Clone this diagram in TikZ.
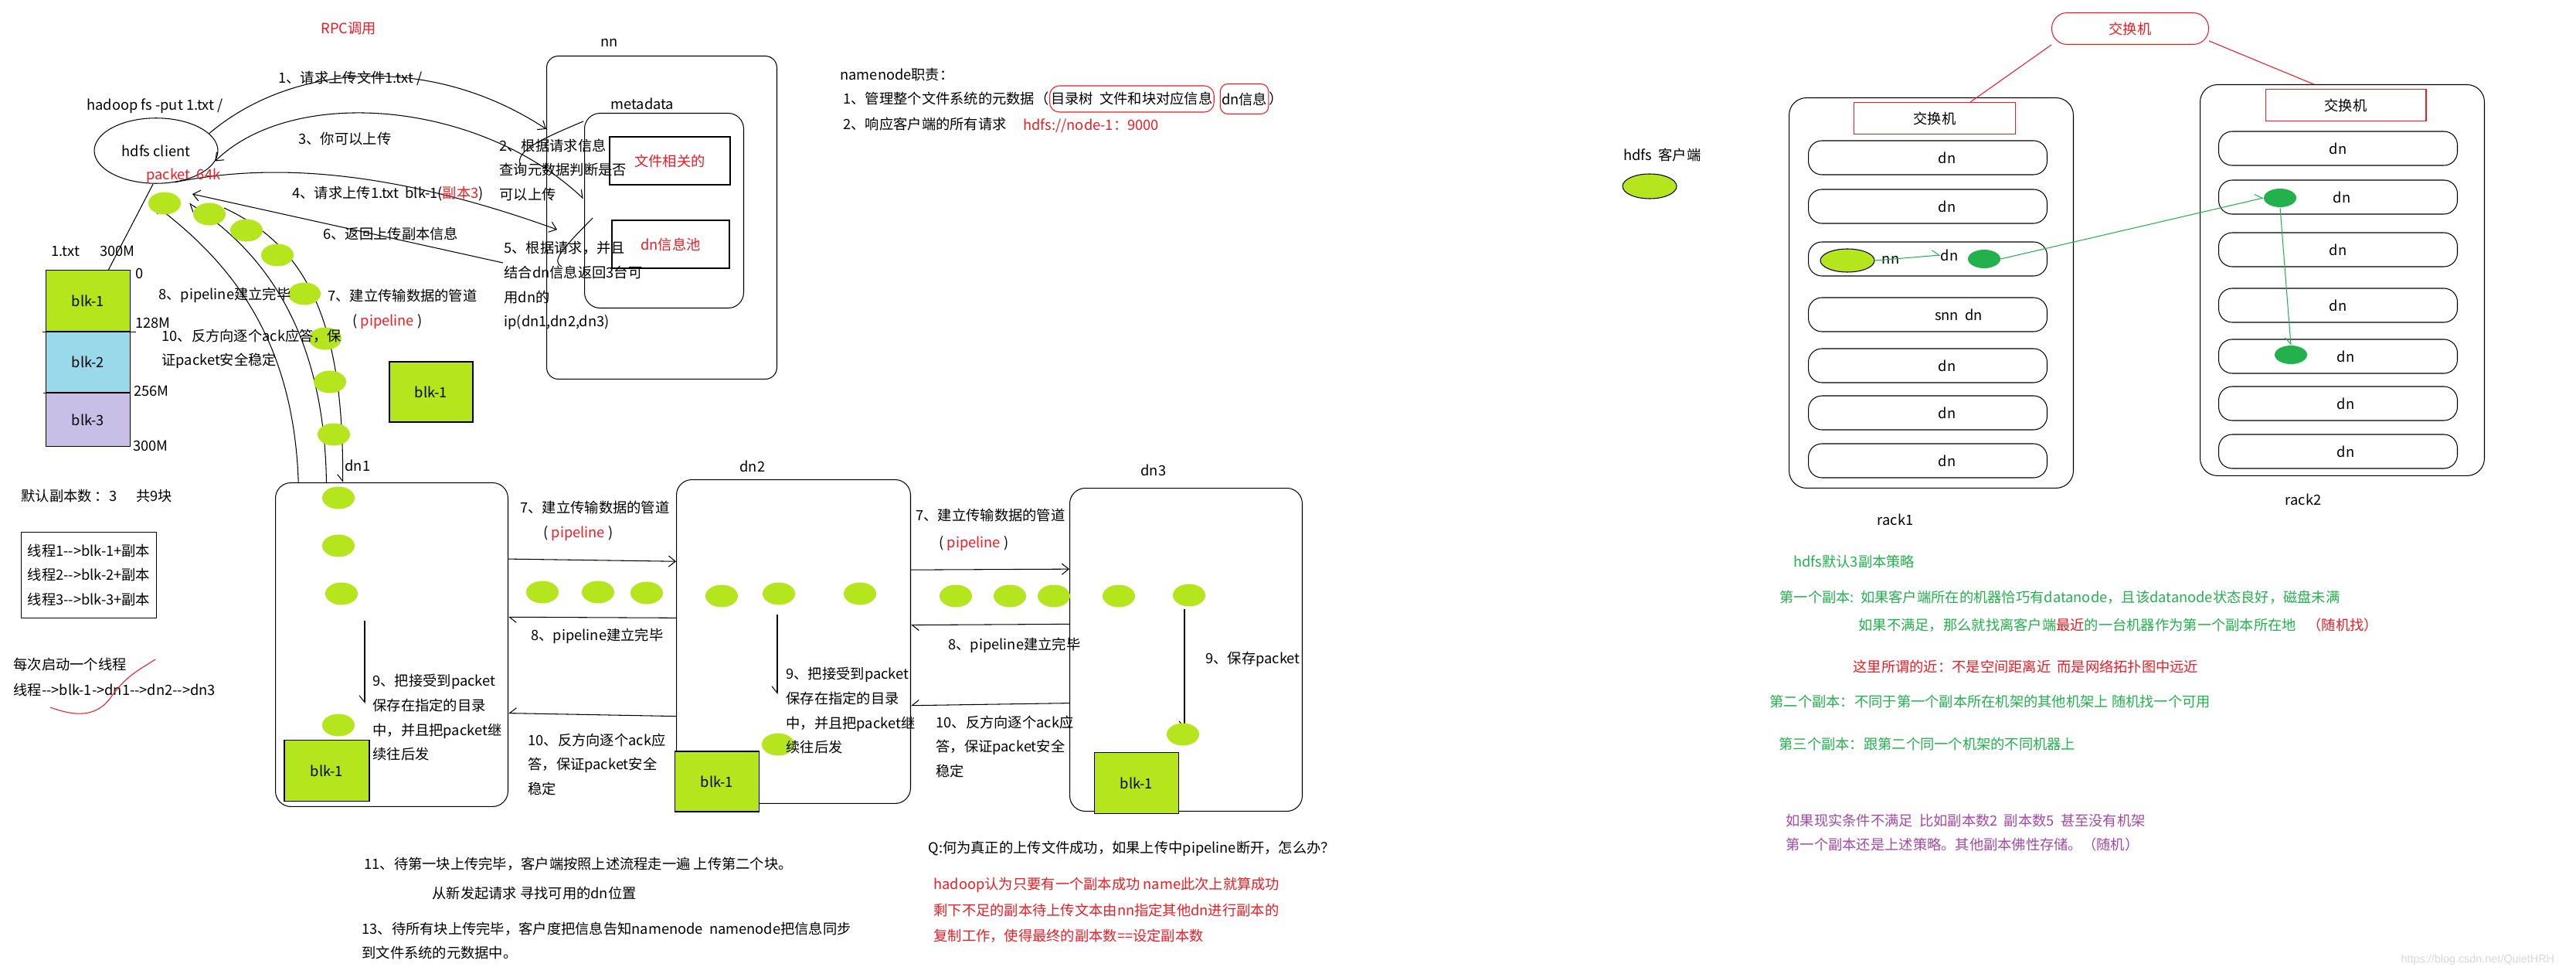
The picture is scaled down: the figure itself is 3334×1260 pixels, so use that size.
\documentclass[tikz,border=0pt]{standalone}
\usepackage{fontspec}
\setmainfont{Noto Sans CJK SC}
\newfontfamily\wmfont{Liberation Sans}
\usetikzlibrary{shapes.geometric,arrows.meta,positioning,calc}
\definecolor{pLime}{HTML}{B5E61D}
\definecolor{pSky}{HTML}{99D9EA}
\definecolor{pLilac}{HTML}{C8BFE7}
\definecolor{pGreen}{HTML}{22B14C}
\definecolor{pRed}{HTML}{ED1C24}
\definecolor{pPurple}{HTML}{A349A4}
\definecolor{pMark}{HTML}{D8D8D8}
\newcommand{\ftx}{\fontsize{10.4}{18}\selectfont}
\newcommand{\dar}{-\kern0pt->}
\tikzset{
  txt/.style={font=\ftx, inner sep=0pt, anchor=west, align=left},
  txtR/.style={txt, text=pRed},
  txtG/.style={txt, text=pGreen},
  txtP/.style={txt, text=pPurple},
  para/.style={txt, anchor=north west},
  box/.style={draw, rounded corners=0.4cm, anchor=north west, inner sep=0pt},
  infobox/.style={draw, text=pRed, font=\ftx, inner sep=0pt},
  blk/.style={draw, fill=pLime, font=\ftx, minimum width=2.18cm, minimum height=1.58cm, inner sep=0pt},
  pkt/.style={ellipse, fill=pLime, minimum width=0.84cm, minimum height=0.58cm, inner sep=0pt},
  gdot/.style={ellipse, fill=pGreen, minimum width=0.84cm, minimum height=0.48cm, inner sep=0pt},
  rowbox/.style={draw, rounded corners=0.35cm, minimum width=6.18cm, minimum height=0.88cm, inner sep=0pt, font=\ftx},
  rack/.style={draw, rounded corners=0.45cm, minimum width=7.36cm, minimum height=10.1cm, anchor=north west},
  arr/.style={-{Straight Barb[length=5pt,width=8pt]}},
  hL/.style={-{Straight Barb[length=5pt,width=8pt,left]}},
  hR/.style={-{Straight Barb[length=5pt,width=8pt,right]}},
}
\begin{document}
\begin{tikzpicture}[x=0.02cm, y=-0.02cm, line width=0.6pt]
\useasboundingbox (0,0) rectangle (3334,1260);
\fill[white] (0,0) rectangle (3334,1260);

% namenode and client
\node[box, rounded corners=0.3cm, minimum width=5.96cm, minimum height=8.36cm] (nn) at (707,72) {};
\node[box, minimum width=4.12cm, minimum height=5.04cm] (meta) at (756,146) {};
\node[infobox, minimum width=3.12cm, minimum height=1.24cm] (fileinfo) at (867,208) {文件相关的};
\node[infobox, minimum width=3.04cm, minimum height=1.24cm] (dnpool) at (868,316) {dn信息池};
\node[ellipse, draw, minimum width=3.2cm, minimum height=1.69cm, inner sep=0pt, font=\ftx] (client) at (202,195) {hdfs client};

\node[draw, fill=pLime, font=\ftx, anchor=north west, minimum width=2.18cm, minimum height=1.58cm, inner sep=0pt] (f1) at (59,349) {blk-1};
\node[draw, fill=pSky, font=\ftx, minimum width=2.18cm, minimum height=1.56cm, inner sep=0pt, below=0pt of f1] (f2) {blk-2};
\node[draw, fill=pLilac, font=\ftx, minimum width=2.18cm, minimum height=1.38cm, inner sep=0pt, below=0pt of f2] (f3) {blk-3};
\draw ([xshift=-0.08cm]f1.south west) -- ([xshift=0.14cm]f1.south east);
\draw ([xshift=-0.06cm]f2.south west) -- (f2.south east);
\node[blk, minimum width=2.16cm, minimum height=1.56cm] (blk0) at (558,507) {blk-1};

\coordinate (a1e) at (707,167);
\coordinate (a2s) at (755,157); \coordinate (a2e) at (673,212);
\coordinate (a3s) at (755,257);
\coordinate (a4e) at (721,297);
\coordinate (a5s) at (767,282); \coordinate (a5e) at (727,345);
\coordinate (a6s) at (651,340); \coordinate (a6e) at (249,251);
\draw[arr] (client.18) .. controls (380,80) and (560,70) .. (a1e);
\draw (a2s) .. controls (700,180) and (668,195) .. (a2e);
\draw[{Straight Barb[length=5pt,width=8pt,left]}-{Straight Barb[length=5pt,width=8pt]}] (a3s) .. controls (620,130) and (380,110) .. (client.-10);
\draw[arr] (client.-60) .. controls (330,215) and (480,210) .. (a4e);
\draw (a5s) .. controls (730,320) and (712,338) .. (a5e);
\draw[arr] (a6s) -- (a6e);
\draw (client.-95) -- ($(f1.north west)!0.74!(f1.north east)$);

% datanodes
\node[box, minimum width=6.02cm, minimum height=8.38cm] (dn1) at (356,624) {};
\node[box, minimum width=6.06cm, minimum height=8.38cm] (dn2) at (875,620) {};
\node[box, minimum width=6.02cm, minimum height=8.36cm] (dn3) at (1384,631) {};

% pipeline from client to dn1
\coordinate (pa) at (200,265); \coordinate (pb) at (245,263); \coordinate (pc) at (290,269);
\draw[hL] ($(dn1.north west)!0.10!(dn1.north east)$) .. controls (380,440) and (300,340) .. (pa);
\draw[hL] ($(dn1.north west)!0.22!(dn1.north east)$) .. controls (420,440) and (350,330) .. (pb);
\draw[hR] (pc) .. controls (400,320) and (445,420) .. ($(dn1.north west)!0.29!(dn1.north east)$);

\draw[arr] ($(dn1.north east)!.236!(dn1.south east)$) -- ($(dn2.north west)!.253!(dn2.south west)$);
\draw[hL] ($(dn2.north west)!.427!(dn2.south west)$) -- ($(dn1.north east)!.415!(dn1.south east)$);
\draw[hR] ($(dn2.north west)!.730!(dn2.south west)$) -- ($(dn1.north east)!.711!(dn1.south east)$);
\draw[arr] ($(dn2.north east)!.279!(dn2.south east)$) -- ($(dn3.north west)!.251!(dn3.south west)$);
\draw[hL] ($(dn3.north west)!.421!(dn3.south west)$) -- ($(dn2.north east)!.449!(dn2.south east)$);
\draw[hR] ($(dn3.north west)!.665!(dn3.south west)$) -- ($(dn2.north east)!.697!(dn2.south east)$);

\coordinate (s1a) at (472,803); \coordinate (s1b) at (472,910);
\coordinate (s2a) at (1006,795); \coordinate (s2b) at (1006,898);
\coordinate (s3a) at (1533,788); \coordinate (s3b) at (1533,943);
\draw[hR] (s1a) -- (s1b); \draw[hR] (s2a) -- (s2b); \draw[hR] (s3a) -- (s3b);

% packets
\node[pkt] (q1) at (213,263) {}; \node[pkt] (q2) at (271,277) {}; \node[pkt] (q3) at (319,298) {};
\node[pkt] (q4) at (359,330) {}; \node[pkt] (q5) at (394,380) {}; \node[pkt] (q6) at (421,438) {};
\node[pkt] (q7) at (427,494) {}; \node[pkt] (q8) at (432,562) {};
\node[pkt] (q9) at (438,644) {}; \node[pkt] (q10) at (438,706) {}; \node[pkt] (q11) at (442,768) {};
\node[pkt] (q12) at (438,938) {};
\node[pkt] (q13) at (702,766) {}; \node[pkt] (q14) at (774,766) {}; \node[pkt] (q15) at (837,767) {};
\node[pkt] (q16) at (934,771) {}; \node[pkt] (q17) at (1008,768) {}; \node[pkt] (q18) at (1113,768) {};
\node[pkt] (q19) at (1007,963) {};
\node[pkt] (q20) at (1237,771) {}; \node[pkt] (q21) at (1307,771) {}; \node[pkt] (q22) at (1364,771) {};
\node[pkt] (q23) at (1448,771) {}; \node[pkt] (q24) at (1539,770) {}; \node[pkt] (q25) at (1531,950) {};

\node[blk, minimum width=2.2cm] (blk1) at (423,997) {blk-1};
\node[blk, minimum height=1.56cm] (blk2) at (928,1011) {blk-1};
\node[blk] (blk3) at (1471,1013) {blk-1};

% texts left
\node[txtR] (rpc) at (415,37) {RPC调用};
\node[txt] (nnlbl) at (777,55) {nn};
\node[txt] (metalbl) at (790,134) {metadata};
\node[txt] (cmd) at (112,137) {hadoop fs -put 1.txt /};
\node[txtR] (pk) at (189,227) {packet\ \ 64k};
\node[txt] (t1) at (360,101) {1、请求上传文件1.txt /};
\node[txt] (t3) at (386,180) {3、你可以上传};
\node[para] (t2) at (646,179) {2、根据请求信息\\查询元数据判断是否\\可以上传};
\node[txt] (t4) at (378,251) {4、请求上传1.txt\ \ blk-1(\textcolor{pRed}{副本3})};
\node[txt] (t6) at (418,302) {6、返回上传副本信息};
\node[para] (t5) at (652,312) {5、根据请求，并且\\结合dn信息返回3台可\\用dn的\\ip(dn1,dn2,dn3)};
\node[txt] (t8) at (205,382) {8、pipeline建立完毕};
\node[txt] (t7) at (424,383) {7、建立传输数据的管道};
\node[txt] (t7b) at (456,416) {( \textcolor{pRed}{pipeline} )};
\node[para] (t10) at (209,425) {10、反方向逐个ack应答，保\\证packet安全稳定};
\node[txt] (ftxt) at (66,325) {1.txt};
\node[txt] (fsize) at (129,325) {300M};
\node[txt] (m0) at (175,354) {0};
\node[txt] (m1) at (175,418) {128M};
\node[txt] (m2) at (173,506) {256M};
\node[txt] (m3) at (172,577) {300M};
\node[txt] (rep) at (27,642) {默认副本数 ：3\hspace{0.5cm}共9块};
\node[draw, anchor=north west, minimum width=3.5cm, minimum height=2.22cm, inner sep=1pt, font=\ftx, align=left] (thr) at (27,688) {线程1\dar blk-1+副本\\线程2\dar blk-2+副本\\线程3\dar blk-3+副本};
\node[txt] (th1) at (17,860) {每次启动一个线程};
\node[txt] (th2) at (17,893) {线程\dar blk-1->dn1\dar dn2\dar dn3};
\draw[pRed] (65,915) .. controls (95,926) and (125,930) .. (145,900) .. controls (165,872) and (185,864) .. (201,853);

\node[txt] (dn1lbl) at (446,602) {dn1};
\node[txt] (dn2lbl) at (957,603) {dn2};
\node[txt] (dn3lbl) at (1476,608) {dn3};
\node[para] (n9a) at (482,872) {9、把接受到packet\\保存在指定的目录\\中，并且把packet继\\续往后发};
\node[para] (n9b) at (1017,863) {9、把接受到packet\\保存在指定的目录\\中，并且把packet继\\续往后发};
\node[txt] (n9c) at (1560,853) {9、保存packet};
\node[txt] (l7a) at (673,657) {7、建立传输数据的管道};
\node[txt] (l7b) at (703,690) {( \textcolor{pRed}{pipeline} )};
\node[txt] (l8a) at (687,823) {8、pipeline建立完毕};
\node[para] (l10a) at (683,948) {10、反方向逐个ack应\\答，保证packet安全\\稳定};
\node[txt] (r7a) at (1185,667) {7、建立传输数据的管道};
\node[txt] (r7b) at (1215,703) {( \textcolor{pRed}{pipeline} )};
\node[txt] (r8a) at (1227,835) {8、pipeline建立完毕};
\node[para] (r10a) at (1211,925) {10、反方向逐个ack应\\答，保证packet安全\\稳定};

% namenode duties
\node[txt] (nnd0) at (1087,97) {namenode职责：};
\node[txt] (nnd1) at (1091,128) {1、管理整个文件系统的元数据（};
\node[txt, right=0pt of nnd1, draw=pRed, rounded corners=0.25cm, inner xsep=1pt, minimum height=0.68cm] (nnd2) {目录树\ \ 文件和块对应信息};
\node[txt, right=4pt of nnd2, draw=pRed, rounded corners=0.2cm, inner xsep=1pt, minimum height=0.78cm] (nnd3) {dn信息};
\node[txt, right=0pt of nnd3] (nnd4) {）};
\node[txt] (nnd5) at (1091,161) {2、响应客户端的所有请求};
\node[txtR] (nnd6) at (1324,163) {hdfs://node-1：9000};

% bottom notes
\node[txt] (b11) at (471,1118) {11、待第一块上传完毕，客户端按照上述流程走一遍 上传第二个块。};
\node[txt] (b12) at (559,1156) {从新发起请求 寻找可用的dn位置};
\node[txt] (b13) at (468,1202) {13、待所有块上传完毕，客户度把信息告知namenode\ \ namenode把信息同步};
\node[txt] (b14) at (468,1233) {到文件系统的元数据中。};
\node[txt] (bq) at (1201,1098) {Q:何为真正的上传文件成功，如果上传中pipeline断开，怎么办？};
\node[txtR] (ba1) at (1208,1145) {hadoop认为只要有一个副本成功 name此次上就算成功};
\node[txtR] (ba2) at (1208,1178) {剩下不足的副本待上传文本由nn指定其他dn进行副本的};
\node[txtR] (ba3) at (1208,1211) {复制工作，使得最终的副本数==设定副本数};

% racks
\node[infobox, draw=pRed, rounded corners=0.4cm, minimum width=4.06cm, minimum height=0.82cm] (sw0) at (2757,37) {交换机};
\node[rack] (rack1) at (2315,126) {};
\node[rack, minimum height=10.12cm] (rack2) at (2847,109) {};
\node[draw=pRed, font=\ftx, minimum width=4.18cm, minimum height=0.82cm, inner sep=0pt] (sw1) at (2504,153) {交换机\hspace{0.8cm}};
\node[draw=pRed, font=\ftx, minimum width=4.16cm, minimum height=0.82cm, inner sep=0pt] (sw2) at (3036,136) {交换机\hspace{1.36cm}};
\draw[pRed] (sw0.south west) -- ($(sw1.north west)!0.72!(sw1.north east)$);
\draw[pRed] ($(sw0.north east)!0.88!(sw0.south east)$) -- ($(rack2.north west)!0.4!(rack2.north east)$);

\node[rowbox] (r1a) at (2495,204) {\hspace{1cm}dn};
\node[rowbox] (r1b) at (2495,267) {\hspace{1cm}dn};
\node[rowbox] (r1c) at (2495,335) {};
\node[rowbox] (r1d) at (2495,407) {\hspace{1.6cm}snn\ \ dn};
\node[rowbox] (r1e) at (2495,473) {\hspace{1cm}dn};
\node[rowbox] (r1f) at (2495,534) {\hspace{1cm}dn};
\node[rowbox] (r1g) at (2495,596) {\hspace{1cm}dn};
\node[rowbox] (r2a) at (3026,192) {dn};
\node[rowbox] (r2b) at (3026,255) {\hspace{0.2cm}dn};
\node[rowbox] (r2c) at (3026,323) {dn};
\node[rowbox] (r2d) at (3026,395) {dn};
\node[rowbox] (r2e) at (3026,461) {\hspace{0.4cm}dn};
\node[rowbox] (r2f) at (3026,522) {\hspace{0.4cm}dn};
\node[rowbox] (r2g) at (3026,584) {\hspace{0.4cm}dn};

\node[ellipse, draw, fill=pLime, minimum width=1.4cm, minimum height=0.6cm, inner sep=0pt] (nnell) at (2391,337) {};
\node[txt, anchor=center] (nnrow) at (2447,336) {nn};
\node[txt, anchor=center] (nndn) at (2523,330) {dn};
\node[gdot] (gd1) at (2568,335) {};
\node[gdot] (gd2) at (2951,256) {};
\node[gdot] (gd3) at (2965,459) {};
\draw[pGreen, hL] (nnell.east) -- (nndn.west);
\draw[pGreen, hL] (gd1.east) -- (gd2.west);
\draw[pGreen, hR] (gd2.south) -- (gd3.north);

\node[txt, anchor=center] (rk1) at (2453,672) {rack1};
\node[txt, anchor=center] (rk2) at (2981,646) {rack2};
\node[txt] (legt) at (2101,201) {hdfs\ \ 客户端};
\node[ellipse, draw, fill=pLime, minimum width=1.4cm, minimum height=0.64cm, inner sep=0pt] (legd) at (2135,241) {};

% placement policy
\node[txtG] (g1) at (2321,727) {hdfs默认3副本策略};
\node[txtG] (g2) at (2303,773) {第一个副本:\ \ 如果客户端所在的机器恰巧有datanode，且该datanode状态良好，磁盘未满};
\node[txtG] (g3) at (2405,809) {如果不满足，那么就找离客户端\textcolor{pRed}{最近}的一台机器作为第一个副本所在地};
\node[txtR] (g3r) at (2986,809) {（随机找）};
\node[txtR] (g4) at (2398,862) {这里所谓的近：不是空间距离近\ \ 而是网络拓扑图中远近};
\node[txtG] (g5) at (2290,908) {第二个副本：不同于第一个副本所在机架的其他机架上 随机找一个可用};
\node[txtG] (g6) at (2302,963) {第三个副本：跟第二个同一个机架的不同机器上};
\node[txtP] (g7) at (2311,1062) {如果现实条件不满足\ \ 比如副本数2\ \ 副本数5\ \ 甚至没有机架};
\node[txtP] (g8) at (2311,1093) {第一个副本还是上述策略。其他副本佛性存储。（随机）};
\node[txt, font=\wmfont\fontsize{8.2}{10}\selectfont, text=pMark] (wm) at (3107,1242) {https://blog.csdn.net/QuietHRH};
\end{tikzpicture}
\end{document}
